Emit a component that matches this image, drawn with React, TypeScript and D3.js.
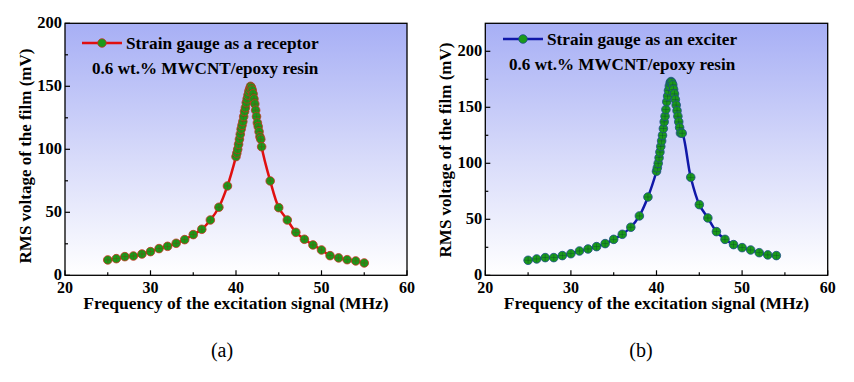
import React from "react";
import * as d3 from "d3";

const freqA = [25,26,27,28,29,30,31,32,33,34,35,36,37,38,39,40,40.1,40.2,40.3,40.4,40.5,40.6,40.7,40.8,40.9,41.0,41.1,41.2,41.3,41.4,41.5,41.6,41.7,41.8,41.9,42.0,42.1,42.2,42.3,42.4,42.5,42.6,42.7,42.8,42.9,43,44,45,46,47,48,49,50,51,52,53,54,55];
const voltA = [12.2,13.2,14.8,15.3,16.9,18.8,21.2,23,25.4,28.3,32.3,36.5,43.9,54,70.9,94.2,97,100,104,108,112,116,119,122,126,130,133,137,140,143,146,148,150,149,147,144,140,136,131,126,121,118,114,110,108,102,74.9,53.7,43.9,34.1,28.6,24.1,20.1,15.6,13.8,12.4,11.4,9.8];

const freqB = [25,26,27,28,29,30,31,32,33,34,35,36,37,38,39,40,40.1,40.2,40.3,40.4,40.5,40.6,40.7,40.8,40.9,41.0,41.1,41.2,41.3,41.4,41.5,41.6,41.7,41.8,41.9,42.0,42.1,42.2,42.3,42.4,42.5,42.6,42.7,42.8,43,44,45,46,47,48,49,50,51,52,53,54];
const voltB = [13.4,14.6,15.8,15.8,17.6,19.3,21.7,23.5,25.6,28.3,32.1,36.6,42.9,53,69.9,92.9,96,100,105,110,115,120,125,131,137,142,148,155,160,165,169,172,173,172,170,166,162,157,152,147,142,137,132,127,126.8,87.5,63.1,51.2,39,32.1,27.4,24.7,22.6,20.2,18.2,17.6];

const xTicks = [20,30,40,50,60];
const xMinor = [25,35,45,55];
const yTicksA = [0,50,100,150,200];
const yMinorA = [25,75,125,175];
const yTicksB = [0,50,100,150,200];
const yMinorB = [25,75,125,175];

const xLabel = "Frequency of the excitation signal (MHz)";
const yLabel = "RMS voltage of the film (mV)";
const noteText = "0.6 wt.% MWCNT/epoxy resin";

type PanelProps = {
  id: string;
  x0: number; x1: number; y0: number; y1: number;
  yMax: number;
  freq: number[]; volt: number[];
  yTicks: number[]; yMinor: number[];
  lineColor: string; strokeColor: string; crossColor: string;
  legend: string;
  legX: number; legY: number; noteX: number; noteY: number;
  yLabX: number; yLabY: number;
  caption: string; capX: number;
};

const FONT = "'Liberation Serif', 'Times New Roman', serif";

function Panel(p: PanelProps) {
  const xs = d3.scaleLinear().domain([20, 60]).range([p.x0, p.x1]);
  const ys = d3.scaleLinear().domain([0, p.yMax]).range([p.y1, p.y0]);
  const pts = p.freq.map((f, i) => [f, p.volt[i]] as [number, number]);
  const line = d3.line<[number, number]>().x(d => xs(d[0])).y(d => ys(d[1])).curve(d3.curveCatmullRom.alpha(0.5));
  const r = 4.3;
  return (
    <g>
      <defs>
        <linearGradient id={p.id} x1="0" y1="0" x2="0" y2="1">
          <stop offset="0" stopColor="#a7aff5" />
          <stop offset="0.55" stopColor="#d9dcfa" />
          <stop offset="1" stopColor="#ffffff" />
        </linearGradient>
      </defs>
      <rect x={p.x0} y={p.y0} width={p.x1 - p.x0} height={p.y1 - p.y0} fill={`url(#${p.id})`} />
      <path d={line(pts) || ""} fill="none" stroke={p.lineColor} strokeWidth={2.5} />
      {pts.map((d, i) => {
        const cx = xs(d[0]);
        const cy = ys(d[1]);
        return (
          <g key={i}>
            <circle cx={cx} cy={cy} r={r} fill="#1a9a1a" stroke={p.strokeColor} strokeWidth={0.8} />
            <line x1={cx - r + 1} x2={cx + r - 1} y1={cy} y2={cy} stroke={p.crossColor} strokeWidth={0.6} opacity={0.6} />
            <line x1={cx} x2={cx} y1={cy - r + 1} y2={cy + r - 1} stroke={p.crossColor} strokeWidth={0.6} opacity={0.6} />
          </g>
        );
      })}
      <rect x={p.x0} y={p.y0} width={p.x1 - p.x0} height={p.y1 - p.y0} fill="none" stroke="#000" strokeWidth={1.3} />
      {xTicks.map(t => (
        <g key={"xt" + t}>
          <line x1={xs(t)} x2={xs(t)} y1={p.y1} y2={p.y1 - 5} stroke="#000" strokeWidth={1.2} />
          <text x={xs(t)} y={p.y1 + 17.3} textAnchor="middle" fontFamily={FONT} fontWeight="bold" fontSize={16}>{t}</text>
        </g>
      ))}
      {xMinor.map(t => (
        <line key={"xm" + t} x1={xs(t)} x2={xs(t)} y1={p.y1} y2={p.y1 - 3} stroke="#000" strokeWidth={1.2} />
      ))}
      {p.yTicks.map(t => (
        <g key={"yt" + t}>
          <line x1={p.x0} x2={p.x0 + 5} y1={ys(t)} y2={ys(t)} stroke="#000" strokeWidth={1.2} />
          <text x={p.x0 - 3} y={ys(t) + 5} textAnchor="end" fontFamily={FONT} fontWeight="bold" fontSize={16.5}>{t}</text>
        </g>
      ))}
      {p.yMinor.map(t => (
        <line key={"ym" + t} x1={p.x0} x2={p.x0 + 3} y1={ys(t)} y2={ys(t)} stroke="#000" strokeWidth={1.2} />
      ))}
      <text x={(p.x0 + p.x1) / 2} y={p.y1 + 33.8} textAnchor="middle" fontFamily={FONT} fontWeight="bold" fontSize={17.5}>{xLabel}</text>
      <text transform={`translate(${p.yLabX},${p.yLabY}) rotate(-90)`} textAnchor="middle" fontFamily={FONT} fontWeight="bold" fontSize={17}>{yLabel}</text>
      <line x1={p.legX} x2={p.legX + 40} y1={p.legY} y2={p.legY} stroke={p.lineColor} strokeWidth={2.5} />
      <circle cx={p.legX + 20} cy={p.legY} r={r} fill="#1a9a1a" stroke={p.strokeColor} strokeWidth={0.8} />
      <text x={p.legX + 44} y={p.legY + 6} fontFamily={FONT} fontWeight="bold" fontSize={17.3}>{p.legend}</text>
      <text x={p.noteX} y={p.noteY} fontFamily={FONT} fontWeight="bold" fontSize={17.1}>{noteText}</text>
      <text x={p.capX} y={357} textAnchor="middle" fontFamily={FONT} fontSize={20}>{p.caption}</text>
    </g>
  );
}

export default function App() {
  return (
    <svg width={854} height={382} style={{ position: "absolute", left: 0, top: 0, background: "#fff" }}>
      <Panel id="gA" x0={65} x1={407} y0={23.3} y1={275.3} yMax={200} freq={freqA} volt={voltA}
        yTicks={yTicksA} yMinor={yMinorA} lineColor="#e01010" strokeColor="#c83020" crossColor="#8a3010"
        legend="Strain gauge as a receptor" legX={82} legY={43} noteX={92} noteY={74}
        yLabX={31} yLabY={156} caption="(a)" capX={222} />
      <Panel id="gB" x0={485.3} x1={827.7} y0={23.3} y1={275.3} yMax={225} freq={freqB} volt={voltB}
        yTicks={yTicksB} yMinor={yMinorB} lineColor="#1018a8" strokeColor="#1a4a8a" crossColor="#0a3a3a"
        legend="Strain gauge as an exciter" legX={503} legY={39} noteX={509} noteY={70}
        yLabX={451} yLabY={150} caption="(b)" capX={641} />
    </svg>
  );
}
